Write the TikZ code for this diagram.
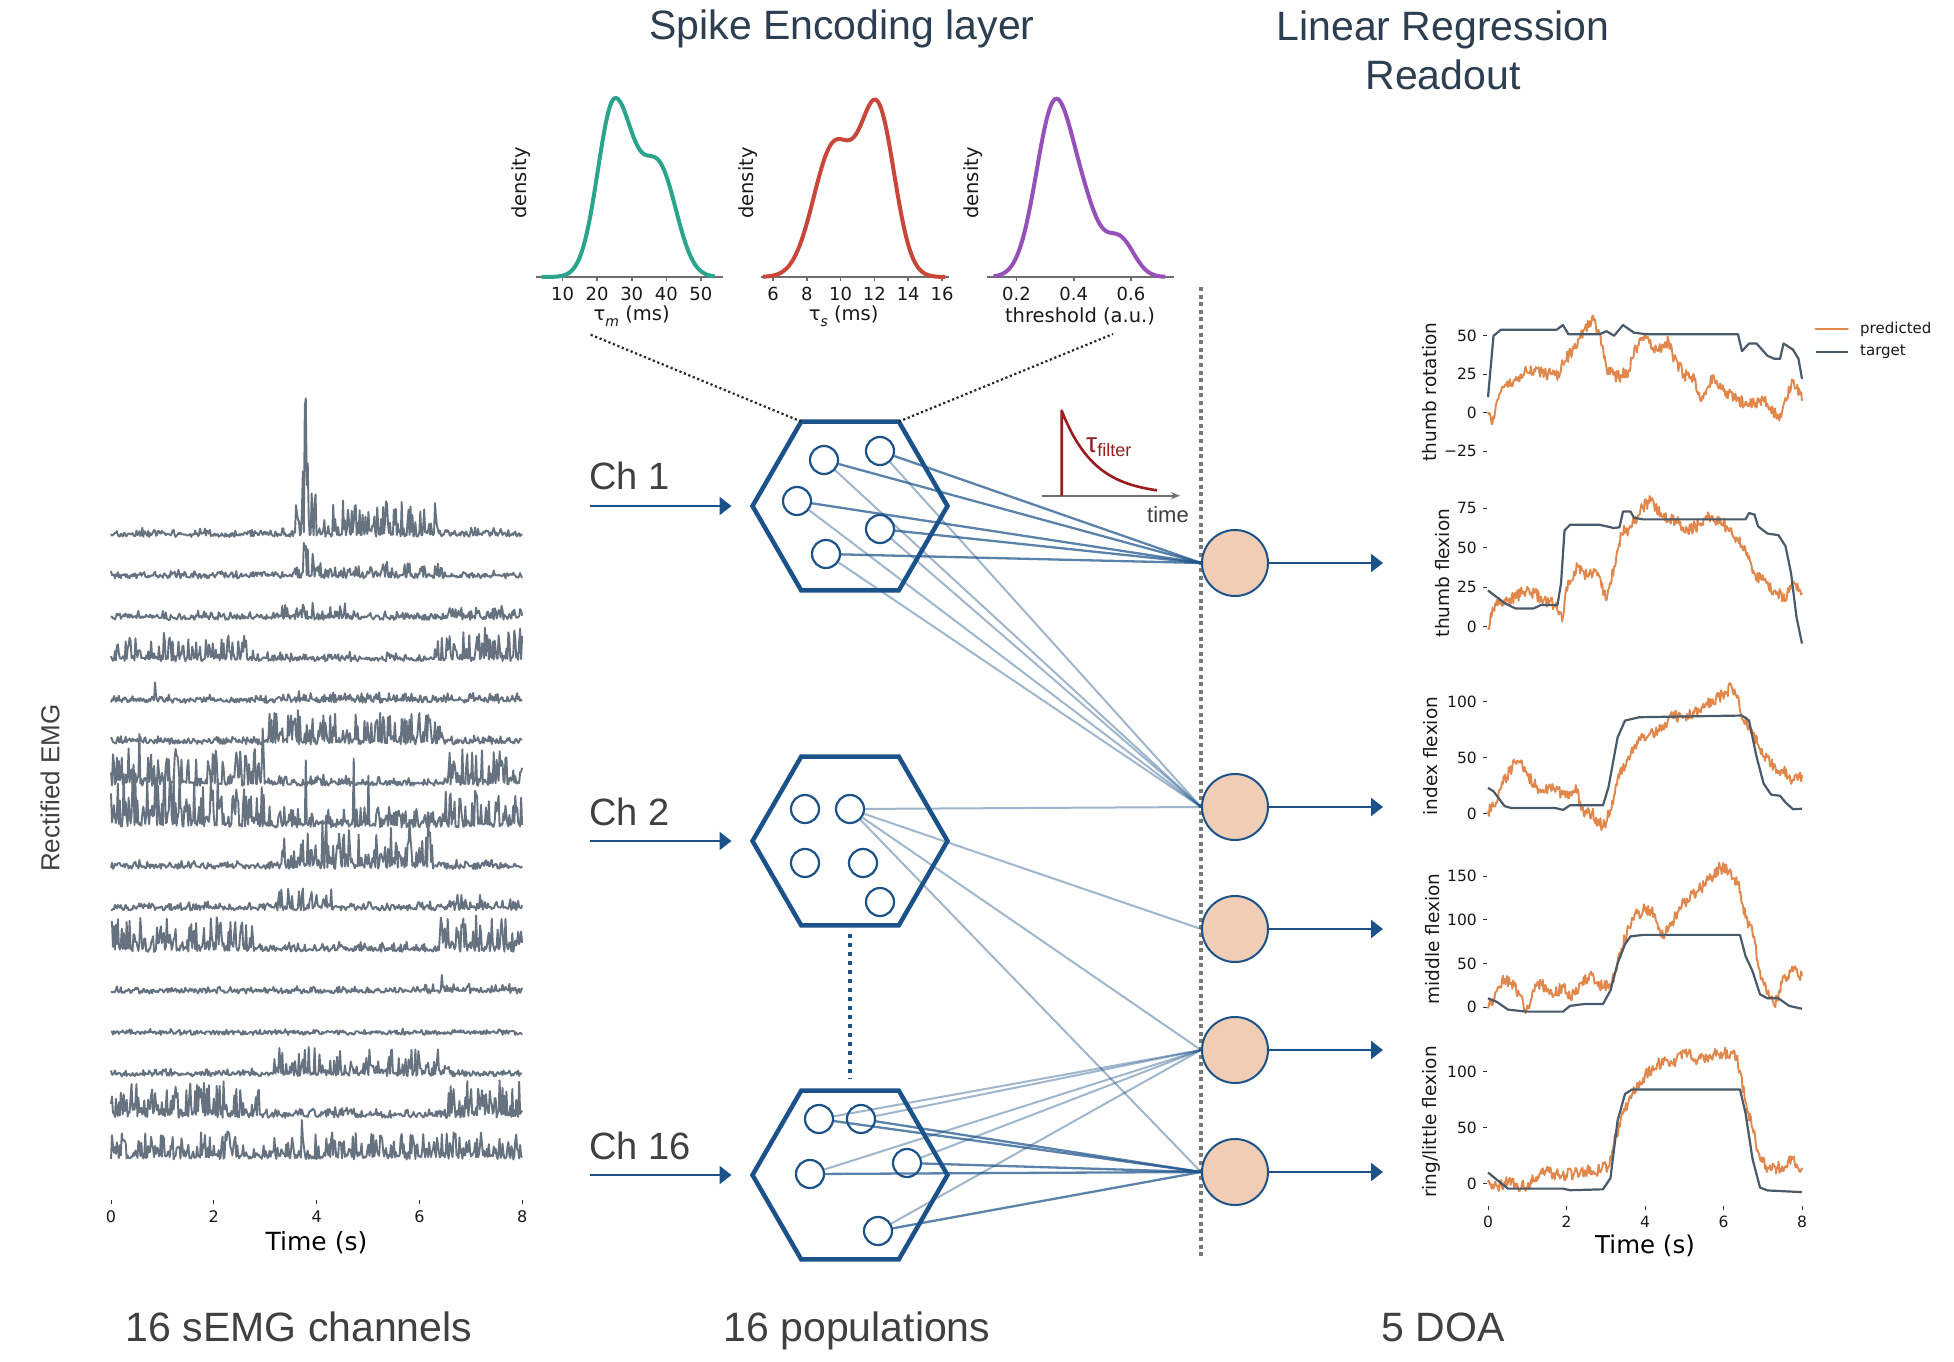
\documentclass[tikz,border=0pt]{standalone}
\usepackage{fontspec}
\setmainfont{Liberation Sans}
\newfontfamily\dv{DejaVu Sans}
\usetikzlibrary{shapes.geometric,arrows.meta,calc}
\definecolor{hexblue}{RGB}{28,82,138}
\definecolor{peach}{RGB}{240,205,180}
\definecolor{titlecol}{RGB}{44,62,80}
\definecolor{labcol}{RGB}{64,64,64}
\definecolor{emgcol}{RGB}{102,114,127}
\definecolor{tgtcol}{RGB}{74,90,106}
\definecolor{predcol}{RGB}{225,135,75}
\definecolor{tealc}{RGB}{42,164,138}
\definecolor{redc}{RGB}{200,70,58}
\definecolor{purc}{RGB}{150,80,185}
\definecolor{taured}{RGB}{155,28,30}
\definecolor{dotgray}{RGB}{120,120,120}
\definecolor{axgray}{RGB}{110,110,110}

\def\nonemark{none}
\newcommand\noisyline[3]{%
  \foreach \myT/\myV [remember=\myT as \myLT (initially none), remember=\myV as \myLV (initially 0)] in {#3} {%
    \ifx\myLT\nonemark\else
      \pgfmathtruncatemacro\myN{max(2,round(((\myT)-(\myLT))*45))}%
      \draw[#1] (\myLT,\myLV) \foreach \myK in {1,...,\myN} { -- ({(\myLT)+((\myT)-(\myLT))*\myK/\myN},{(\myLV)+((\myV)-(\myLV))*\myK/\myN+(\myK<\myN)*#2*rand}) };%
    \fi
  }%
}
\newcommand\emgtrace[3]{\draw[emgline] plot[domain=0:8,samples=421] ({111+\x*51.4},{#1-(#2)*pow(rnd,3)-(#3)-3.8*rnd});}

\begin{document}
\begin{tikzpicture}[x=1pt,y=-1pt,
  hexa/.style={regular polygon, regular polygon sides=6, minimum size=195pt, inner sep=0pt, outer sep=0pt, draw=hexblue, line width=4.5pt},
  neuron/.style={circle, minimum size=28pt, inner sep=0pt, draw=hexblue, line width=2.2pt, fill=white},
  outn/.style={circle, minimum size=66pt, inner sep=0pt, draw=hexblue, line width=2pt, fill=peach},
  cdark/.style={draw=hexblue, draw opacity=0.72, line width=2.3pt},
  clight/.style={draw=hexblue, draw opacity=0.42, line width=2pt},
  inarrow/.style={draw=hexblue, line width=2.5pt, -{Triangle[length=12pt,width=18pt]}},
  title/.style={font=\fontsize{41}{49}\selectfont, text=titlecol, inner sep=0pt},
  bottomlab/.style={font=\fontsize{41}{49}\selectfont, text=labcol, inner sep=0pt},
  chlab/.style={font=\fontsize{38}{44}\selectfont, text=labcol, inner sep=0pt},
  dtext/.style={font=\dv\fontsize{19.5}{22}\selectfont, inner sep=0pt, text=black!90},
  dtick/.style={font=\dv\fontsize{18}{20}\selectfont, inner sep=0pt, text=black!90},
  axline/.style={draw=axgray, line width=1.6pt},
  dens/.style={line width=4pt, line join=round},
  dotblack/.style={draw=black!85, line width=2.2pt, dash pattern=on 2.2pt off 2.6pt},
  emgline/.style={draw=emgcol, line width=1.9pt, line join=round},
  etick/.style={font=\dv\fontsize{16}{18}\selectfont, inner sep=0pt, text=black!90},
  rtick/.style={font=\dv\fontsize{15.5}{18}\selectfont, inner sep=0pt, text=black!90},
  ylab/.style={font=\dv\fontsize{18.5}{21}\selectfont, inner sep=0pt, text=black!90, rotate=90},
  tickln/.style={draw=black!80, line width=1pt},
  tgt/.style={draw=tgtcol, line width=2.2pt, line join=round},
  pred/.style={draw=predcol, line width=1.9pt, line join=round, line cap=round}
]
\pgfmathsetseed{11}
\fill[white] (0,0) rectangle (1954,1362);
\useasboundingbox (0,0) rectangle (1954,1362);

% ---------- titles ----------
\node[title, anchor=base] (t1) at (842,40) {Spike Encoding layer};
\node[title, anchor=base] (t2) at (1443,41) {Linear Regression};
\node[title, anchor=base] (t3) at (1443,90) {Readout};
\node[bottomlab, anchor=base] (b1) at (299,1341) {16 sEMG channels};
\node[bottomlab, anchor=base] (b2) at (857,1341) {16 populations};
\node[bottomlab, anchor=base] (b3) at (1443,1341) {5 DOA};

% ---------- density panels ----------
\draw[axline] (535.7,277) -- (723,277);
\foreach \v in {10,20,30,40,50} {
  \draw[axline] ({562.5+(\v-10)*3.46},277) -- ++(0,4);
  \node[dtick] (d1t\v) at ({562.5+(\v-10)*3.46},294) {\v};
}
\draw[dens, tealc] plot[domain=4:54,samples=150] ({562.5+(\x-10)*3.46},{277-175*(exp(-(\x-25)*(\x-25)/(46+14.5*(\x>25)))+0.6*exp(-(\x-38)*(\x-38)/50))});
\node[dtext, rotate=90] (d1y) at (521,183) {density};
\node[dtext] (d1x) at (631.7,316) {τ\raisebox{-0.3em}{\fontsize{14}{15}\selectfont\itshape m} (ms)};

\draw[axline] (761,277) -- (949,277);
\foreach \v in {6,8,10,12,14,16} {
  \draw[axline] ({773+(\v-6)*16.9},277) -- ++(0,4);
  \node[dtick] (d2t\v) at ({773+(\v-6)*16.9},294) {\v};
}
\draw[dens, redc] plot[domain=5.4:16.2,samples=150] ({773+(\x-6)*16.9},{277-163*(0.8*exp(-(\x-9.6)*(\x-9.6)/2.88)+exp(-(\x-12.2)*(\x-12.2)/2))});
\node[dtext, rotate=90] (d2y) at (748,183) {density};
\node[dtext] (d2x) at (843.7,316) {τ\raisebox{-0.3em}{\fontsize{14}{15}\selectfont\itshape s} (ms)};

\draw[axline] (986.6,277) -- (1174,277);
\foreach \v/\l [count=\i] in {20/0.2,40/0.4,60/0.6} {
  \draw[axline] ({1016.5+(\v-20)*2.86},277) -- ++(0,4);
  \node[dtick] (d3t\i) at ({1016.5+(\v-20)*2.86},294) {\l};
}
\draw[dens, purc] plot[domain=12:72,samples=150] ({1016.5+(\x-20)*2.86},{277-174*(exp(-(\x-33.5)*(\x-33.5)/84.5)+0.25*exp(-(\x-44.5)*(\x-44.5)/50)+0.22*exp(-(\x-56)*(\x-56)/50))});
\node[dtext, rotate=90] (d3y) at (973,183) {density};
\node[dtext] (d3x) at (1080,316) {threshold (a.u.)};

% ---------- EMG ----------
\emgtrace{537}{6+30*(\x>3.55)*(\x<6.35)+40*(\x>3.6)*(\x<4.0)}{112*(\x>3.77)*(\x<3.79)+60*(\x>3.73)*(\x<3.75)}
\emgtrace{578.5}{6+8*(\x>3.5)*(\x<6.5)+22*(\x>3.7)*(\x<3.95)}{30*(\x>3.77)*(\x<3.79)}
\emgtrace{620}{6+9*(\x>3.2)*(\x<4.6)+5*(\x>6.5)}{0}
\emgtrace{661.5}{7+21*(\x<2.8)+24*(\x>6.3)}{0}
\emgtrace{703}{5+4*(\x>3)}{16*(\x>0.84)*(\x<0.86)}
\emgtrace{744.5}{6+26*(\x>3.0)*(\x<6.5)}{0}
\emgtrace{786}{8+30*(\x<3.0)+26*(\x>6.4)}{45*(\x>0.55)*(\x<0.57)+38*(\x>2.94)*(\x<2.96)}
\emgtrace{827.5}{12+40*(\x<3.0)+22*(\x>6.5)+6*(\x>3)*(\x<6.5)}{50*(\x>3.78)*(\x<3.8)+55*(\x>4.72)*(\x<4.74)+40*(\x>5.0)*(\x<5.02)}
\emgtrace{869}{6+40*(\x>3.3)*(\x<6.3)}{0}
\emgtrace{910.5}{6+16*(\x>3.25)*(\x<4.3)+8*(\x>6.4)}{0}
\emgtrace{952}{7+25*(\x<2.8)+27*(\x>6.3)}{28*(\x>0.56)*(\x<0.58)}
\emgtrace{993.5}{4+3*(\x>6)}{14*(\x>6.42)*(\x<6.44)}
\emgtrace{1035}{3}{0}
\emgtrace{1076.5}{5+22*(\x>2.9)*(\x<6.6)}{0}
\emgtrace{1118}{8+28*(\x<2.9)+30*(\x>6.5)}{0}
\emgtrace{1159.5}{10+16}{38*(\x>3.7)*(\x<3.72)}
\foreach \t in {0,2,4,6,8} {
  \draw[tickln] ({111+51.4*\t},1200) -- ++(0,4);
  \node[etick] (et\t) at ({111+51.4*\t},1217) {\t};
}
\node[font=\dv\fontsize{25}{28}\selectfont, inner sep=0pt] (etx) at (316.5,1243) {Time (s)};
\node[font=\fontsize{26}{30}\selectfont, text=labcol, rotate=90, inner sep=0pt] (remg) at (50,788) {Rectified EMG};

% ---------- spike encoding ----------
\node[hexa] (H1) at (850,506) {};
\node[hexa] (H2) at (850,841) {};
\node[hexa] (H3) at (850,1175) {};

\coordinate (dl) at (589,334);
\coordinate (dr) at (1113,334);
\draw[dotblack] ($(H1.center)+(-48.75,-84.4)$) -- (dl);
\draw[dotblack] ($(H1.center)+(48.75,-84.4)$) -- (dr);

\draw[draw=hexblue, line width=4pt, dash pattern=on 4pt off 5pt] ($(H2.center)+(0,93)$) -- ($(H3.center)+(0,-96)$);

\coordinate (i1) at (590,506);
\coordinate (i2) at (590,841);
\coordinate (i3) at (590,1175);
\draw[inarrow] (i1) -- ($(H1.west)+(-21,0)$);
\draw[inarrow] (i2) -- ($(H2.west)+(-21,0)$);
\draw[inarrow] (i3) -- ($(H3.west)+(-21,0)$);
\node[chlab, anchor=base west] (c1) at (589,489) {Ch 1};
\node[chlab, anchor=base west] (c2) at (589,825) {Ch 2};
\node[chlab, anchor=base west] (c3) at (589,1159) {Ch 16};

% vertical separator
\coordinate (vt) at (1201,287);
\coordinate (vb) at (1201,1258);
\draw[draw=dotgray, line width=3.5pt, dash pattern=on 4pt off 3.6pt] (vt) -- (vb);

% output neurons
\node[outn] (o1) at (1235,563) {};
\node[outn] (o2) at (1235,807) {};
\node[outn] (o3) at (1235,929) {};
\node[outn] (o4) at (1235,1050) {};
\node[outn] (o5) at (1235,1172) {};

% neurons
\node[neuron] (h1a) at (824,460) {};
\node[neuron] (h1b) at (880,451) {};
\node[neuron] (h1c) at (797,501) {};
\node[neuron] (h1d) at (880,529) {};
\node[neuron] (h1e) at (826,554) {};
\node[neuron] (h2a) at (805,809) {};
\node[neuron] (h2b) at (850,809) {};
\node[neuron] (h2c) at (805,863) {};
\node[neuron] (h2d) at (863,863) {};
\node[neuron] (h2e) at (880,902) {};
\node[neuron] (h3a) at (819,1119) {};
\node[neuron] (h3b) at (861,1119) {};
\node[neuron] (h3c) at (810,1174) {};
\node[neuron] (h3d) at (907,1163) {};
\node[neuron] (h3e) at (878,1231) {};

% connections
\foreach \n in {a,b,c,d,e} {
  \draw[cdark] (h1\n) -- (o1.west);
  \draw[clight] (h1\n) -- (o2.west);
  \draw[clight] (h3\n) -- (o4.west);
  \draw[cdark] (h3\n) -- (o5.west);
}
\foreach \o in {o2,o3,o4,o5} \draw[clight] (h2b) -- (\o.west);

% output arrows
\coordinate (a1) at (1383,563);
\coordinate (a2) at (1383,807);
\coordinate (a3) at (1383,929);
\coordinate (a4) at (1383,1050);
\coordinate (a5) at (1383,1172);
\foreach \k in {1,...,5} \draw[inarrow, line width=2.2pt] (o\k) -- (a\k);

% tau filter inset
\coordinate (tf0) at (1041.7,495.7);
\coordinate (tf1) at (1180,495.7);
\draw[draw=axgray, line width=1.8pt, -{Stealth[length=9pt,width=7pt]}] (tf0) -- (tf1);
\draw[draw=taured, line width=2.6pt, line join=round] (1061.7,495.5) -- (1061.7,410.7) -- plot[domain=1061.7:1157,samples=50] (\x,{495-84.3*exp(-(\x-1061.7)/33)});
\node[anchor=base west, inner sep=0pt, text=taured] (tfl) at (1086,452) {{\fontsize{28}{30}\selectfont τ}{\fontsize{18}{20}\selectfont\raisebox{-4pt}{filter}}};
\node[font=\fontsize{22}{26}\selectfont, text=labcol, inner sep=0pt] (ttime) at (1168,515) {time};

% ---------- regression plots ----------
\begin{scope}[shift={(1488,412.6)}, x=39.25pt, y=1.536pt]
\noisyline{pred}{4}{0/0,0.09/-7,0.33/14,0.6/19,0.98/27,1.44/26,1.81/23,1.91/32,2.19/42,2.47/55,2.7/60,2.84/51,3.02/29,3.3/23,3.58/27,3.77/42,4.05/49,4.33/40,4.6/47,4.7/38,4.98/25,5.26/21,5.44/8,5.72/23,6.0/14,6.37/8,6.65/6,7.02/8,7.4/-3,7.49/0,7.77/21,7.95/12,8/8}
\draw[tgt] (0,10) -- (0.14,50) -- (0.33,54) -- (1.75,54) -- (1.91,57) -- (2.05,51) -- (2.84,51) -- (3.02,53) -- (3.21,50) -- (3.44,57) -- (3.72,52) -- (4.05,51) -- (6.37,51) -- (6.47,40) -- (6.65,45) -- (6.84,45) -- (7.12,37) -- (7.3,35) -- (7.44,35) -- (7.53,45) -- (7.77,41) -- (7.91,35) -- (8,22);
\foreach \v/\l [count=\i] in {-25/−25,0/0,25/25,50/50} {
  \draw[tickln] (-0.127,\v) -- (-0.025,\v);
  \node[rtick, anchor=east] (p1t\i) at (-0.28,\v) {\l};
}
\end{scope}

\begin{scope}[shift={(1488,626.8)}, x=39.25pt, y=1.58pt]
\noisyline{pred}{4}{0/-1,0.14/10.6,0.33/17,0.6/18,0.98/23,1.35/19,1.72/12.7,1.91/6,2.0/25,2.28/38,2.56/32,2.74/36,3.02/17,3.21/38,3.4/59,3.67/63.6,3.95/76,4.14/79.5,4.42/70,4.7/68,5.16/61,5.63/70,6.09/63.6,6.37/55,6.56/48.7,6.74/34,7.02/29.7,7.3/23,7.58/17,7.77/27.5,8/21}
\draw[tgt] (0,23) -- (0.42,15) -- (0.7,11.6) -- (1.16,11.6) -- (1.35,13.8) -- (1.77,13.8) -- (1.86,27.5) -- (1.95,61) -- (2.09,64.6) -- (2.84,64.6) -- (3.21,62.5) -- (3.35,63) -- (3.44,73) -- (3.63,73) -- (3.72,69) -- (3.95,68) -- (6.56,68) -- (6.65,72) -- (6.79,71) -- (6.88,63.6) -- (7.12,59) -- (7.4,58) -- (7.58,51) -- (7.72,34) -- (7.86,6) -- (8,-10.6);
\foreach \v [count=\i] in {0,25,50,75} {
  \draw[tickln] (-0.127,\v) -- (-0.025,\v);
  \node[rtick, anchor=east] (p2t\i) at (-0.28,\v) {\v};
}
\end{scope}

\begin{scope}[shift={(1488,813.7)}, x=39.25pt, y=1.122pt]
\noisyline{pred}{5.5}{0/1.7,0.23/10,0.42/30.5,0.7/46,0.84/47.5,0.98/37,1.26/22,1.53/23.7,1.91/17,2.28/22,2.37/3.4,2.65/0,2.93/-12,3.12/3.4,3.3/30.5,3.58/51,3.95/68,4.33/74.6,4.7/86,5.16/88,5.53/95,5.81/103,6.09/108.5,6.19/115,6.37/105,6.47/85,6.65/78,6.93/57.6,7.21/44,7.49/39,7.77/30.5,8/34}
\draw[tgt] (0,23) -- (0.14,20) -- (0.42,6.8) -- (0.6,5) -- (1.72,5) -- (1.91,3.4) -- (2.09,7.5) -- (2.93,7.5) -- (3.07,23.7) -- (3.3,67.8) -- (3.49,83) -- (3.86,86) -- (6.47,87.5) -- (6.65,83) -- (6.84,51) -- (7.02,27) -- (7.21,17) -- (7.44,16) -- (7.58,10) -- (7.77,4) -- (8,4.4);
\foreach \v [count=\i] in {0,50,100} {
  \draw[tickln] (-0.127,\v) -- (-0.025,\v);
  \node[rtick, anchor=east] (p3t\i) at (-0.28,\v) {\v};
}
\end{scope}

\begin{scope}[shift={(1488,1007)}, x=39.25pt, y=0.872pt]
\noisyline{pred}{7}{0/-1,0.23/19,0.42/32,0.6/27.7,0.79/14.5,0.98/-3,1.16/19,1.35/27.7,1.63/14.5,1.91/23,2.09/10,2.37/27.7,2.65/36.5,2.93/23,3.16/27.7,3.4/67,3.67/102.5,3.95/111,4.23/107,4.42/80.5,4.7/98,4.98/120,5.35/133,5.63/146.5,5.91/160,6.19/155,6.37/142,6.56/102.5,6.74/85,6.93/41,7.12/14.5,7.3/1.3,7.49/27.7,7.77/41,8/36.5}
\draw[tgt] (0,10) -- (0.23,5.7) -- (0.51,-3) -- (0.98,-5.3) -- (1.91,-5.3) -- (2.09,1.3) -- (2.47,3.5) -- (2.93,3.5) -- (3.12,19) -- (3.3,50) -- (3.49,72) -- (3.63,81) -- (3.95,82.7) -- (6.42,82.7) -- (6.56,58.5) -- (6.74,41) -- (6.93,14.5) -- (7.12,10) -- (7.4,10) -- (7.67,1.3) -- (8,-2);
\foreach \v [count=\i] in {0,50,100,150} {
  \draw[tickln] (-0.127,\v) -- (-0.025,\v);
  \node[rtick, anchor=east] (p4t\i) at (-0.28,\v) {\v};
}
\end{scope}

\begin{scope}[shift={(1488,1183.7)}, x=39.25pt, y=1.122pt]
\noisyline{pred}{5.5}{0/1.7,0.23/-1.7,0.51/1.7,0.98/-3.4,1.35/12,1.72/8.5,2.19/8.5,2.47/12,2.84/12,3.07/15.4,3.21/36,3.4/60,3.67/80,3.95/94,4.33/107.5,4.7/107.5,4.98/118,5.35/111,5.63/114,6.0/116,6.28/118,6.42/100.7,6.56/73,6.74/49.5,6.93/22,7.21/12,7.49/15.4,7.77/22,8/13.6}
\draw[tgt] (0,10) -- (0.23,3.4) -- (0.51,-4.4) -- (1.91,-4.4) -- (2.09,-5.8) -- (2.93,-5) -- (3.12,5) -- (3.3,56) -- (3.49,80) -- (3.67,84) -- (6.42,84) -- (6.56,63) -- (6.74,22) -- (6.93,-3.4) -- (7.12,-6) -- (8,-7.5);
\foreach \v [count=\i] in {0,50,100} {
  \draw[tickln] (-0.127,\v) -- (-0.025,\v);
  \node[rtick, anchor=east] (p5t\i) at (-0.28,\v) {\v};
}
\end{scope}

\foreach \t in {0,2,4,6,8} {
  \draw[tickln] ({1488+39.25*\t},1206) -- ++(0,4);
  \node[rtick] (rt\t) at ({1488+39.25*\t},1222) {\t};
}
\node[font=\dv\fontsize{24.5}{28}\selectfont, inner sep=0pt] (rtx) at (1645,1246) {Time (s)};

\node[ylab] (yl1) at (1430,392) {thumb rotation};
\node[ylab] (yl2) at (1443,573) {thumb flexion};
\node[ylab] (yl3) at (1431,756) {index flexion};
\node[ylab] (yl4) at (1433,939) {middle flexion};
\node[ylab] (yl5) at (1431,1122) {ring/little flexion};

% legend
\coordinate (lg1a) at (1815.6,329);
\coordinate (lg1b) at (1847.8,329);
\coordinate (lg2a) at (1815.6,352);
\coordinate (lg2b) at (1847.8,352);
\draw[pred] (lg1a) -- (lg1b);
\draw[tgt] (lg2a) -- (lg2b);
\node[rtick, anchor=west, font=\dv\fontsize{15}{17}\selectfont] (lgt1) at (1860,329) {predicted};
\node[rtick, anchor=west, font=\dv\fontsize{15}{17}\selectfont] (lgt2) at (1860,352) {target};
\end{tikzpicture}
\end{document}
